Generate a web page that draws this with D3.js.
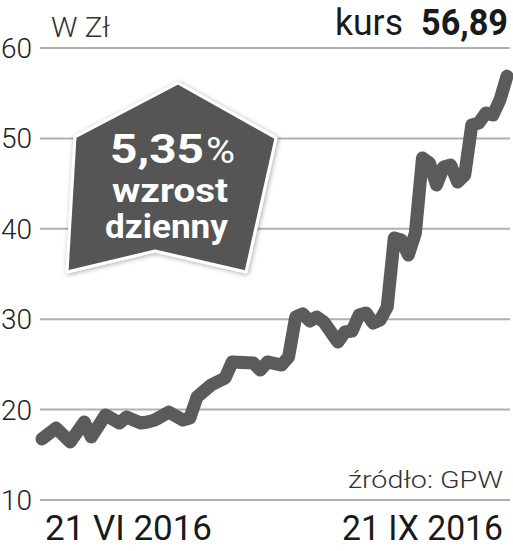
<!DOCTYPE html>
<html><head><meta charset="utf-8">
<script src="https://cdn.jsdelivr.net/npm/d3@7/dist/d3.min.js"></script>
<style>html,body{margin:0;padding:0;background:#fff;}svg{display:block;}</style>
</head><body>
<svg id="c" width="513" height="551"></svg>
<script>
const days = [0,2,4,6,7,9,11,12,14,15,16,18,20,21,22,24,26,27,30,31,32,34,35,36,37,38,39,40,42,43,44,45,46,47,48,49,50,51,52,53,54,55,56,57,58,59,60,61,62,63,64,65,66];
const prices = [16.75,17.96,16.42,18.63,16.97,19.4,18.52,19.18,18.52,18.63,18.85,19.73,18.85,19.07,21.39,22.72,23.5,25.27,25.15,24.38,25.27,24.93,25.82,30.24,30.58,29.8,30.24,29.69,27.48,28.58,28.69,30.46,30.69,29.58,29.91,31.35,38.98,38.76,37.1,39.54,47.83,47.28,44.85,46.84,47.06,45.18,45.95,51.48,51.7,52.81,52.59,54.25,56.89];
const yTicks = [10,20,30,40,50,60];
const xTickLabels = ["21 VI 2016","21 IX 2016"];
const xTickDays = [0,66];
const unitLabel = "W Zł";
const priceLabel = "kurs";
const priceValue = "56,89";
const badgeNumber = "5,35";
const badgePercent = "%";
const badgeLines = ["wzrost","dzienny"];
const sourceLabel = "źródło: GPW";

const svg = d3.select("#c");
const x = d3.scaleLinear().domain([0,66]).range([42,507]);
const y = d3.scaleLinear().domain([10,60]).range([500,48]);

const defs = svg.append("defs");
const f = defs.append("filter").attr("id","sh").attr("x","-20%").attr("y","-20%").attr("width","140%").attr("height","140%");
f.append("feDropShadow").attr("dx",1).attr("dy",1).attr("stdDeviation",2.5).attr("flood-color","#000").attr("flood-opacity",0.35);

// gridlines
svg.append("g").selectAll("line").data(yTicks).join("line")
  .attr("x1",40).attr("x2",510).attr("y1",d=>y(d)).attr("y2",d=>y(d))
  .attr("stroke","#b0b0b0").attr("stroke-width",2);

// y tick labels
svg.append("g").selectAll("text").data(yTicks).join("text")
  .attr("x",32).attr("y",d=>y(d)+10).attr("text-anchor","end")
  .attr("font-family","Roboto").attr("font-weight",300).attr("font-size",28).attr("fill","#222")
  .text(d=>d);

// header
svg.append("text").attr("x",51).attr("y",37).attr("font-family","Roboto").attr("font-weight",300)
  .attr("font-size",27).attr("fill","#333").attr("textLength",59).attr("lengthAdjust","spacingAndGlyphs").text(unitLabel);
svg.append("text").attr("x",335).attr("y",35).attr("font-family","Roboto").attr("font-weight",400)
  .attr("font-size",36).attr("fill","#1a1a1a").attr("textLength",68).attr("lengthAdjust","spacingAndGlyphs").text(priceLabel);
svg.append("text").attr("x",421).attr("y",35).attr("font-family","Roboto").attr("font-weight",700)
  .attr("font-size",36).attr("fill","#1a1a1a").attr("textLength",87).attr("lengthAdjust","spacingAndGlyphs").text(priceValue);

// line
const pts = days.map((d,i)=>[d,prices[i]]);
svg.append("path").datum(pts)
  .attr("d", d3.line().x(d=>x(d[0])).y(d=>y(d[1])))
  .attr("fill","none").attr("stroke","#5b5b5b").attr("stroke-width",13)
  .attr("stroke-linejoin","round").attr("stroke-linecap","round");

// badge
const badge = [[75,137],[178,83],[276,138],[246,272],[155,251],[67,272]];
svg.append("path").attr("d","M"+badge.map(p=>p.join(",")).join("L")+"Z")
  .attr("fill","#555555").attr("stroke","#fff").attr("stroke-width",3).attr("stroke-linejoin","round")
  .attr("filter","url(#sh)");
const bt = svg.append("g").attr("font-family","Roboto").attr("font-weight",700).attr("fill","#fff");
bt.append("text").attr("x",110).attr("y",163).attr("font-size",40)
  .attr("textLength",94).attr("lengthAdjust","spacingAndGlyphs").text(badgeNumber);
bt.append("text").attr("x",206).attr("y",163).attr("font-size",36).attr("font-weight",400)
  .attr("textLength",29).attr("lengthAdjust","spacingAndGlyphs").text(badgePercent);
bt.append("text").attr("x",112).attr("y",202).attr("font-size",34)
  .attr("textLength",116).attr("lengthAdjust","spacingAndGlyphs").text(badgeLines[0]);
bt.append("text").attr("x",105).attr("y",238).attr("font-size",34)
  .attr("textLength",123).attr("lengthAdjust","spacingAndGlyphs").text(badgeLines[1]);

// source
svg.append("text").attr("x",503).attr("y",488).attr("text-anchor","end").attr("font-family","Roboto").attr("font-weight",300)
  .attr("font-size",24).attr("fill","#333").attr("textLength",155).attr("lengthAdjust","spacingAndGlyphs").text(sourceLabel);

// x labels
svg.append("g").selectAll("text").data(xTickLabels).join("text")
  .attr("x",(d,i)=> i===0 ? x(xTickDays[i])+3 : x(xTickDays[i])-4)
  .attr("y",540).attr("text-anchor",(d,i)=> i===0 ? "start":"end")
  .attr("font-family","Roboto").attr("font-weight",400).attr("font-size",35).attr("fill","#1a1a1a")
  .attr("textLength",(d,i)=> i===0 ? 167 : 161).attr("lengthAdjust","spacingAndGlyphs")
  .text(d=>d);
</script>
</body></html>
